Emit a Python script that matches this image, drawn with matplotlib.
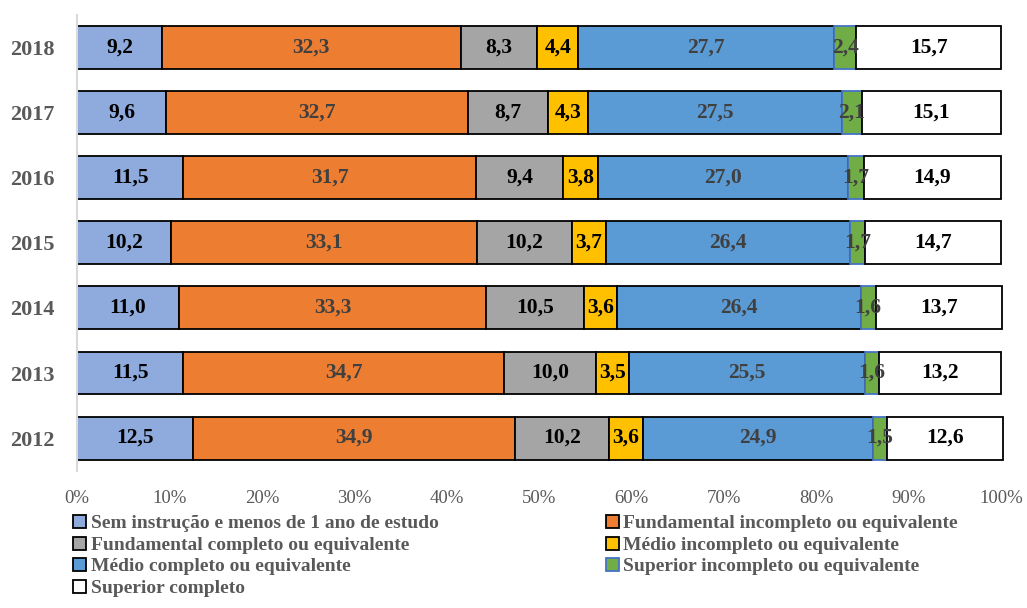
import matplotlib.pyplot as plt
import numpy as np

plt.rcParams["font.family"] = ["Liberation Serif", "DejaVu Serif"]

years = ["2018", "2017", "2016", "2015", "2014", "2013", "2012"]
categories = [
    "Sem instrução e menos de 1 ano de estudo",
    "Fundamental incompleto ou equivalente",
    "Fundamental completo ou equivalente",
    "Médio incompleto ou equivalente",
    "Médio completo ou equivalente",
    "Superior incompleto ou equivalente",
    "Superior completo",
]
sem_instrucao = [9.2, 9.6, 11.5, 10.2, 11.0, 11.5, 12.5]
fund_incompleto = [32.3, 32.7, 31.7, 33.1, 33.3, 34.7, 34.9]
fund_completo = [8.3, 8.7, 9.4, 10.2, 10.5, 10.0, 10.2]
medio_incompleto = [4.4, 4.3, 3.8, 3.7, 3.6, 3.5, 3.6]
medio_completo = [27.7, 27.5, 27.0, 26.4, 26.4, 25.5, 24.9]
sup_incompleto = [2.4, 2.1, 1.7, 1.7, 1.6, 1.6, 1.5]
sup_completo = [15.7, 15.1, 14.9, 14.7, 13.7, 13.2, 12.6]

series = [sem_instrucao, fund_incompleto, fund_completo, medio_incompleto,
          medio_completo, sup_incompleto, sup_completo]
colors = ["#8FAADC", "#ED7D31", "#A5A5A5", "#FFC000", "#5B9BD5", "#70AD47", "#FFFFFF"]
edges = ["black", "black", "black", "black", "black", "#4472C4", "black"]
text_colors = ["black", "#404040", "black", "black", "#404040", "#404040", "black"]

fig = plt.figure(figsize=(10.27, 6.08), dpi=100)
ax = fig.add_axes([0.075, 0.226, 0.9, 0.749])

y = np.arange(len(years))[::-1]
left = np.zeros(len(years))
handles = []
for vals, c, ec, tc, name in zip(series, colors, edges, text_colors, categories):
    vals = np.array(vals)
    bars = ax.barh(y, vals / 100, left=left / 100, height=0.66, color=c,
                   edgecolor=ec, linewidth=1.3, label=name)
    for b in bars:
        b.set_clip_on(False)
    handles.append(bars)
    for yi, l, v in zip(y, left, vals):
        ax.text((l + v / 2) / 100, yi, f"{v:.1f}".replace(".", ","),
                ha="center", va="center", fontsize=15.5, fontweight="bold", color=tc)
    left += vals

ax.set_xlim(0, 1)
ax.set_ylim(-0.5, 6.5)
ax.set_yticks(y)
ax.set_yticklabels(years, fontsize=16, fontweight="bold", color="#595959")
ax.set_xticks(np.arange(0, 1.01, 0.1))
ax.set_xticklabels([f"{int(round(t * 100))}%" for t in np.arange(0, 1.01, 0.1)],
                   fontsize=13.5, color="#595959")
ax.tick_params(axis="y", length=0, pad=16)
ax.tick_params(axis="x", length=0, pad=14)
for s in ["top", "right", "bottom"]:
    ax.spines[s].set_visible(False)
ax.spines["left"].set_color("#D9D9D9")
ax.spines["left"].set_linewidth(1.5)

order = [0, 2, 4, 6, 1, 3, 5]
fig.legend([handles[i] for i in order], [categories[i] for i in order],
           ncol=2, loc="upper left", bbox_to_anchor=(0.062, 0.169),
           frameon=False, handlelength=0.65, handleheight=0.65, handletextpad=0.25,
           columnspacing=8.6, labelspacing=0.22, borderpad=0,
           prop={"size": 14, "weight": "bold"}, labelcolor="#595959")

fig.savefig("out.png", dpi=100)
